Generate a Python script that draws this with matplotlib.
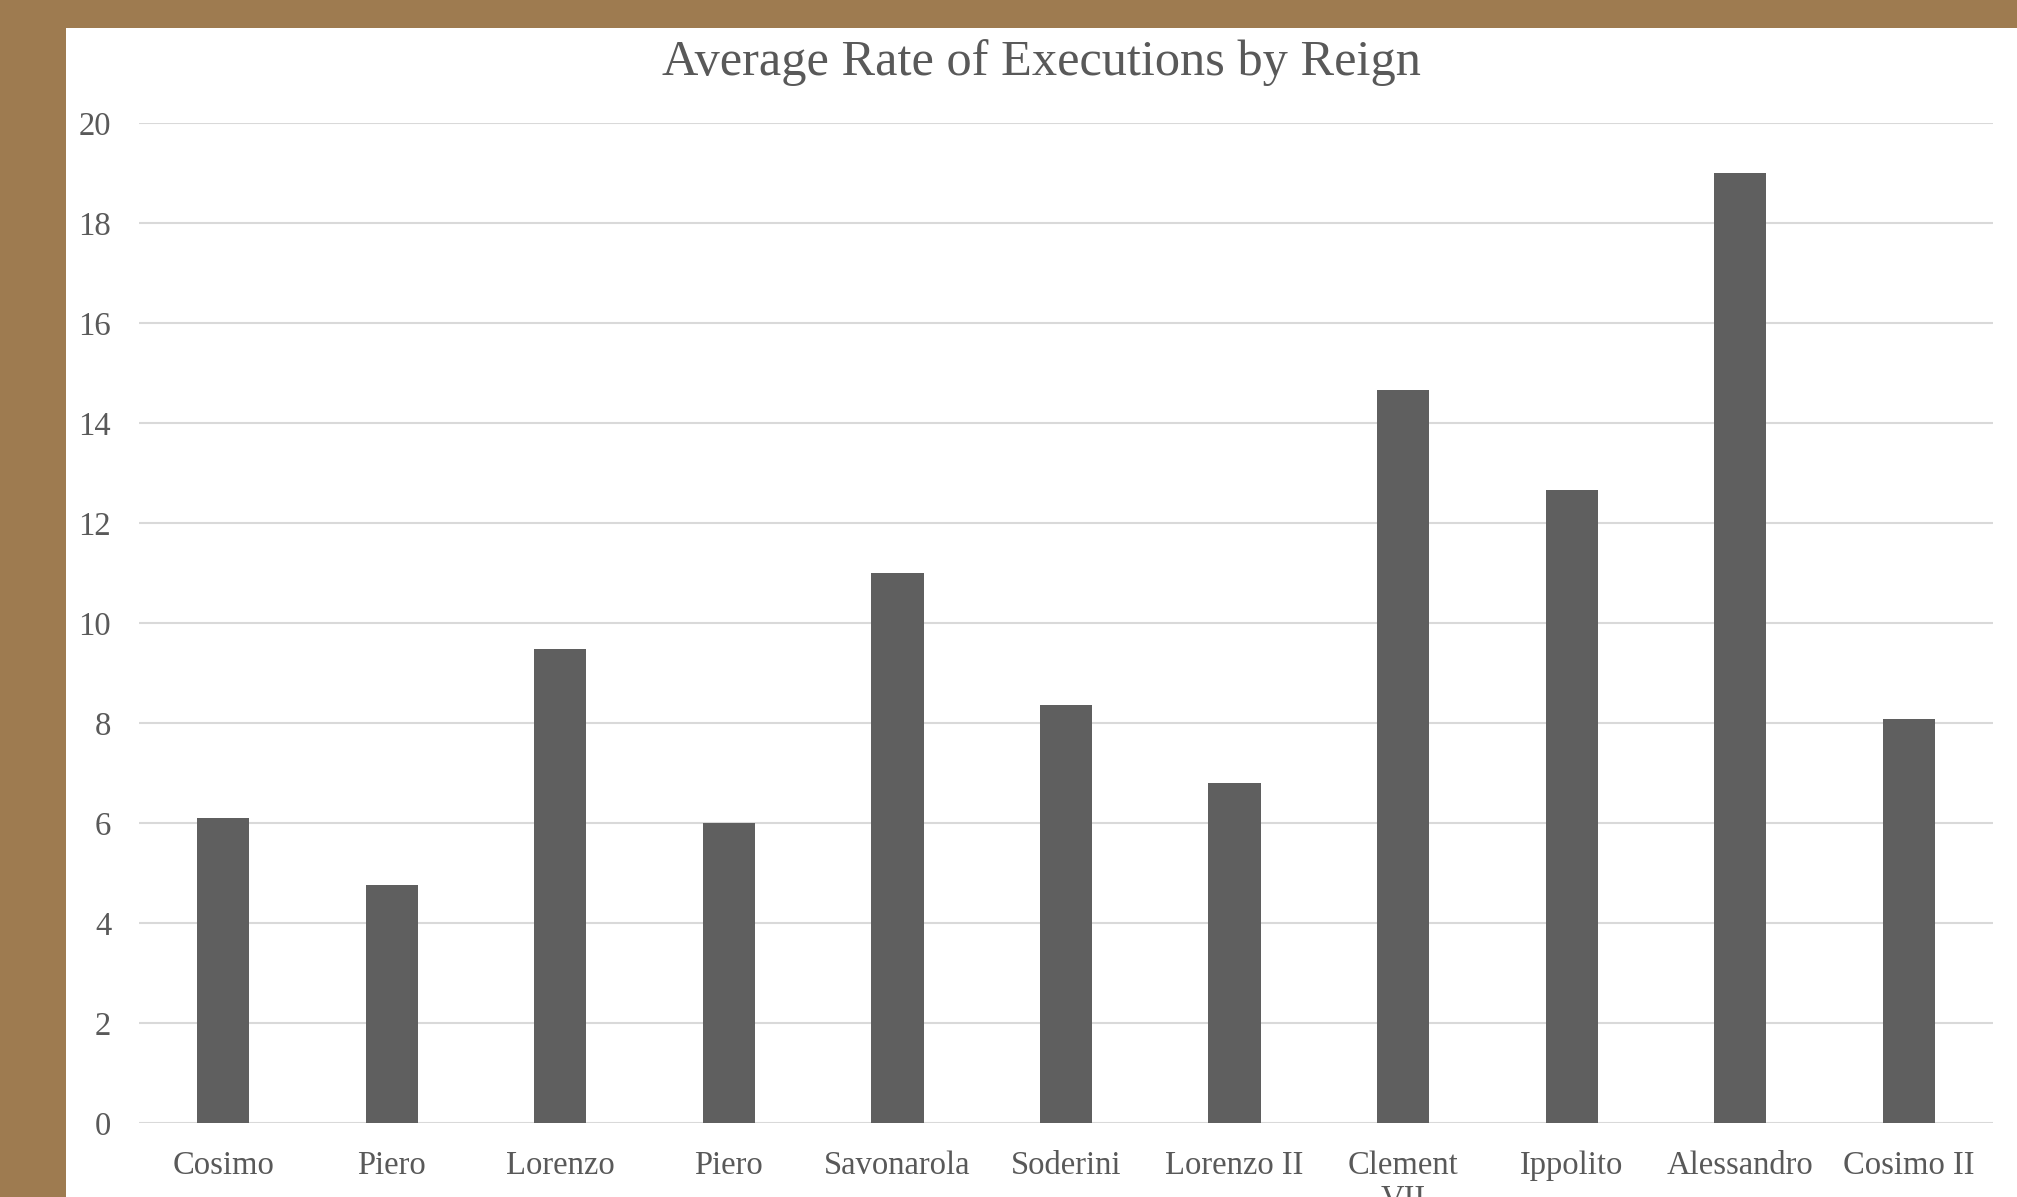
import matplotlib.pyplot as plt
from matplotlib.patches import Rectangle

# Données
reigns = ['Cosimo', 'Piero', 'Lorenzo', 'Piero', 'Savonarola', 'Soderini',
          'Lorenzo II', 'Clement\nVII', 'Ippolito', 'Alessandro', 'Cosimo II']
rates = [6.1, 4.77, 9.49, 6.0, 11.0, 8.37, 6.8, 14.67, 12.67, 19.0, 8.09]
y_ticks = [0, 2, 4, 6, 8, 10, 12, 14, 16, 18, 20]

W, H = 2017, 1197
plt.rcParams['font.family'] = ['Liberation Serif', 'DejaVu Serif']

fig = plt.figure(figsize=(W / 100, H / 100), dpi=100)
fig.patch.set_facecolor('#9e7b50')

# fond blanc du graphique (bordure brune en haut et à gauche)
fig.patches.append(Rectangle((66 / W, 0), 1 - 66 / W, 1 - 28 / H,
                             transform=fig.transFigure, facecolor='white',
                             edgecolor='none', zorder=-10))

ax = fig.add_axes([139 / W, 1 - 1123 / H, (1993 - 139) / W, (1123 - 123) / H])
ax.set_zorder(5)
ax.set_facecolor('none')

x = range(len(reigns))
ax.bar(x, rates, width=0.31, color='#5f5f5f', zorder=3)

ax.set_xlim(-0.5, len(reigns) - 0.5)
ax.set_ylim(0, 20)
ax.set_yticks(y_ticks)
ax.set_xticks(list(x))
ax.set_xticklabels(reigns, linespacing=1.1)

ax.grid(True, axis='y', color='#d9d9d9', linewidth=1.5, zorder=0)
ax.set_axisbelow(True)
for s in ax.spines.values():
    s.set_visible(False)
ax.tick_params(axis='both', length=0, labelsize=23.5, colors='#595959')
ax.tick_params(axis='y', pad=20)
ax.tick_params(axis='x', pad=20)

fig.text(1041 / W, 1 - 63 / H, 'Average Rate of Executions by Reign',
         ha='center', va='center', fontsize=36.3, color='#595959', zorder=6)

fig.savefig('out.png', dpi=100, facecolor=fig.get_facecolor())
